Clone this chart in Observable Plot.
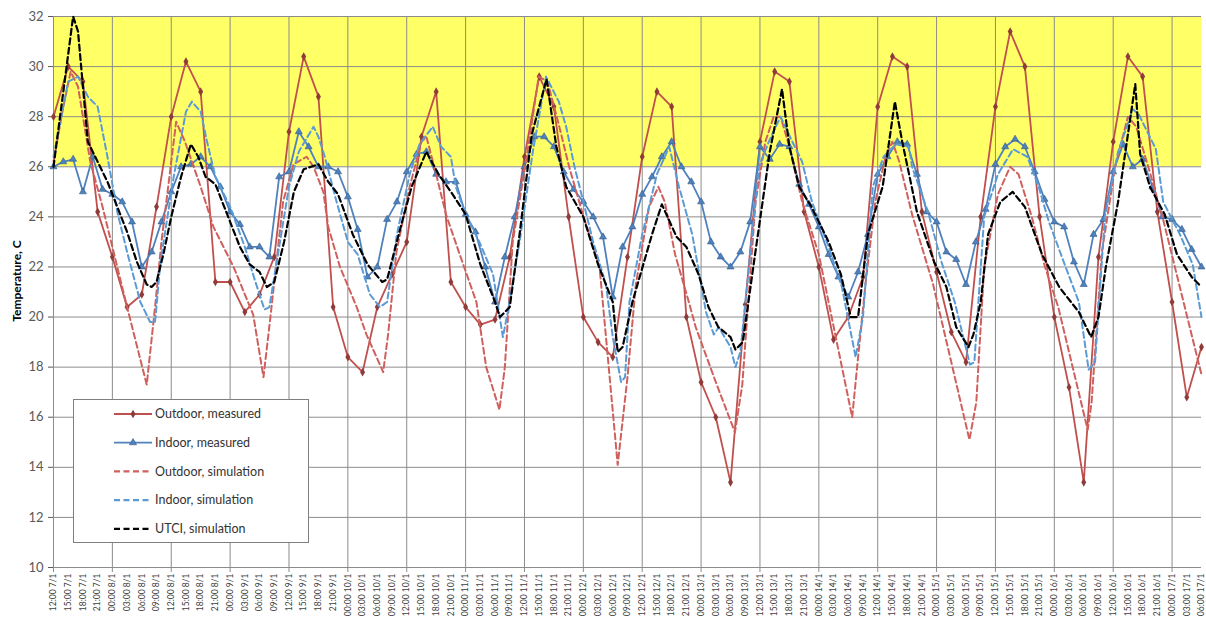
<!DOCTYPE html>
<html><head><meta charset="utf-8">
<script src="https://cdn.jsdelivr.net/npm/d3@7"></script>
<script src="https://cdn.jsdelivr.net/npm/@observablehq/plot@0.6"></script>
<style>
body{margin:0;background:#fff;font-family:Lato,"Open Sans",sans-serif;}
#wrap{position:relative;width:1206px;height:624px;}
#ylab{position:absolute;left:16px;top:281px;transform:translate(-50%,-50%) rotate(-90deg);font-size:12px;font-weight:bold;white-space:nowrap;color:#000;}
#legend{position:absolute;left:73px;top:399px;width:234px;height:142px;border:1px solid #7f7f7f;background:#fff;}
</style></head><body><div id="wrap"></div>
<script>
const timeLabels = [
"12:00 7/1","15:00 7/1","18:00 7/1","21:00 7/1",
"00:00 8/1","03:00 8/1","06:00 8/1","09:00 8/1","12:00 8/1","15:00 8/1","18:00 8/1","21:00 8/1",
"00:00 9/1","03:00 9/1","06:00 9/1","09:00 9/1","12:00 9/1","15:00 9/1","18:00 9/1","21:00 9/1",
"00:00 10/1","03:00 10/1","06:00 10/1","09:00 10/1","12:00 10/1","15:00 10/1","18:00 10/1","21:00 10/1",
"00:00 11/1","03:00 11/1","06:00 11/1","09:00 11/1","12:00 11/1","15:00 11/1","18:00 11/1","21:00 11/1",
"00:00 12/1","03:00 12/1","06:00 12/1","09:00 12/1","12:00 12/1","15:00 12/1","18:00 12/1","21:00 12/1",
"00:00 13/1","03:00 13/1","06:00 13/1","09:00 13/1","12:00 13/1","15:00 13/1","18:00 13/1","21:00 13/1",
"00:00 14/1","03:00 14/1","06:00 14/1","09:00 14/1","12:00 14/1","15:00 14/1","18:00 14/1","21:00 14/1",
"00:00 15/1","03:00 15/1","06:00 15/1","09:00 15/1","12:00 15/1","15:00 15/1","18:00 15/1","21:00 15/1",
"00:00 16/1","03:00 16/1","06:00 16/1","09:00 16/1","12:00 16/1","15:00 16/1","18:00 16/1","21:00 16/1",
"00:00 17/1","03:00 17/1","06:00 17/1"];

// Outdoor, measured: every 3 hours from 12:00 7/1
const outdoorMeasured = [28.0,30.0,29.4,24.2,22.4,20.4,20.9,24.4,28.0,30.2,29.0,21.4,21.4,20.2,20.9,22.4,
27.4,30.4,28.8,20.4,18.4,17.8,20.4,21.7,23.0,27.2,29.0,21.4,20.4,19.7,19.9,22.4,
26.4,29.6,28.4,24.0,20.0,19.0,18.4,22.4,26.4,29.0,28.4,20.0,17.4,16.0,13.4,20.5,
27.0,29.8,29.4,24.2,22.0,19.1,20.0,21.6,28.4,30.4,30.0,24.2,21.8,19.4,18.2,24.0,
28.4,31.4,30.0,24.0,20.0,17.2,13.4,22.4,27.0,30.4,29.6,24.2,20.6,16.8,18.8];

// Indoor, measured: every 2 hours from 12:00 7/1
const indoorMeasured = [26.0,26.2,26.3,25.0,26.4,25.1,24.9,24.6,23.8,22.0,22.6,23.8,25.0,26.0,26.1,26.4,
26.0,25.2,24.2,23.7,22.8,22.8,22.4,25.6,25.8,27.4,26.8,26.0,26.0,25.8,24.8,23.5,
21.6,22.0,23.9,24.6,25.8,26.5,26.6,25.7,25.4,25.4,24.1,23.4,22.0,20.6,22.4,24.0,
26.0,27.2,27.2,26.8,25.8,25.1,24.6,24.0,23.2,20.8,22.8,23.6,24.9,25.6,26.4,27.0,
26.0,25.4,24.6,23.0,22.4,22.0,22.6,23.8,26.8,26.3,26.9,26.8,25.3,24.5,23.6,22.5,
21.6,20.8,21.8,23.3,25.7,26.4,27.0,26.9,25.7,24.2,23.8,22.6,22.3,21.3,23.0,24.3,
26.1,26.8,27.1,26.8,25.8,24.7,23.8,23.6,22.2,21.3,23.3,23.9,25.8,26.9,26.0,26.3,
25.2,24.0,23.9,23.5,22.7,22.0];

// Simulations: [hours after 12:00 7/1, value]
const outdoorSim = [[0,26.2],[2,28.4],[3.5,29.8],[5,29.2],[6,28.0],[7.5,26.2],[10,24.4],[13,22.0],[15,20.4],[19,17.3],
[20.7,20.4],[22,23.0],[25,27.8],[26.8,27.0],[30,25.2],[32.6,23.6],[36.7,22.0],[40.7,20.1],[42.8,17.6],[44.1,19.8],
[46.8,24.6],[48.9,26.1],[51.6,26.4],[53,26.0],[55,25.0],[56,23.6],[58.4,22.0],[61.8,20.4],[63.8,19.3],[67.2,17.8],
[68.2,19.3],[69.9,22.6],[72.6,25.2],[75,27.0],[76,27.2],[78,25.7],[80,24.1],[82.8,22.5],[86.2,20.6],[88.2,18.0],
[90.9,16.3],[92,18.0],[93.6,23.0],[96.3,26.2],[98.9,29.6],[100.7,29.4],[103.1,27.6],[105.1,26.0],[107.9,24.1],[111.3,22.0],
[115,14.1],[117,17.6],[118.7,21.3],[121.4,24.4],[123.3,25.2],[124.6,24.6],[126.7,22.5],[129.5,20.6],[130.9,19.6],[135,17.4],
[138.9,15.4],[140.4,17.3],[143.1,24.6],[145.1,27.0],[146.8,28.0],[148.2,28.0],[150,26.8],[152.6,24.6],[156,22.5],[162.8,16.0],
[163.8,18.0],[165.5,21.3],[167.5,24.6],[169.6,26.4],[171,27.0],[172.4,26.2],[175,24.1],[179.3,21.3],[186.7,15.1],[188.1,16.6],
[189.7,22.0],[192.5,24.9],[195,26.0],[196.7,25.7],[199.4,24.0],[202.1,22.0],[204.8,20.4],[210.8,15.5],[211.6,16.6],[213.7,22.6],
[216.4,26.0],[219,28.0],[220.7,27.6],[223.6,25.7],[226.3,23.8],[234,17.7]];

const indoorSim = [[0,26.4],[3,29.4],[5,29.6],[7,28.8],[9,28.4],[11,26.4],[13,24.2],[15,22.6],[17.7,20.6],[19.7,19.8],
[20.7,19.8],[21.8,22.2],[24.5,25.6],[27,28.2],[28.2,28.6],[30,28.2],[31.3,27.0],[33,25.6],[36,24.4],[39,22.8],
[41,21.5],[43,20.3],[44,20.4],[46,22.8],[48,25.2],[50,26.6],[53,27.6],[54,27.2],[55.3,26.4],[57.7,24.6],
[60,23.0],[62,22.5],[64.5,20.9],[66.5,20.4],[68,20.6],[70,23.3],[72.6,25.7],[74.6,26.9],[77.3,27.6],[79,26.8],
[81,26.4],[82,25.2],[84,24.1],[86.8,23.0],[89.6,21.7],[91.6,19.2],[92.6,20.2],[95,23.0],[97.7,26.6],[100.4,29.6],
[103,28.6],[104.5,27.6],[106.2,26.0],[108,24.6],[110,23.0],[112.6,21.3],[114,19.2],[115.7,17.4],[116.5,17.6],[117.4,20.6],
[120,23.3],[123,25.7],[125.5,26.8],[127.5,25.2],[130.2,23.3],[133,20.2],[134.6,19.3],[135.6,19.6],[138,18.8],[139,18.0],
[140,18.6],[143.8,26.0],[145.8,27.0],[148.2,28.0],[150.6,27.0],[152.6,26.2],[154.6,24.6],[158,22.8],[160.7,21.2],[163.5,18.4],
[165,20.0],[167,25.2],[169.2,26.4],[171.7,26.9],[174.4,26.8],[175,26.0],[178.4,24.1],[181,22.2],[183.7,20.6],[186.8,18.1],
[187.7,18.2],[189.7,24.0],[192.5,25.7],[195.6,26.7],[198.5,26.4],[200.8,25.2],[202.9,23.8],[206.3,22.0],[209,20.6],[211,17.9],
[212.3,18.2],[214.3,24.0],[217,26.6],[220,28.3],[221.2,28.1],[224.7,26.7],[226.2,24.6],[229.6,23.3],[232.2,22.1],[234,20.0]];

const utciSim = [[0,26.0],[4,32.0],[5,31.4],[7,27.0],[9,26.2],[11,25.4],[13,24.4],[15,23.4],[17,22.2],[19,21.3],
[20,21.2],[21,21.4],[22.5,22.6],[24,24.0],[26,25.6],[28,26.9],[29.5,26.4],[31,25.6],[33,25.3],[36,23.8],
[38,22.8],[40,22.1],[42,21.8],[43.5,21.2],[45,21.4],[47,23.0],[49,25.0],[51,25.9],[54,26.1],[56,25.4],
[58,24.9],[61,23.3],[64,22.1],[67,21.4],[68,21.5],[70.5,23.4],[73,25.2],[76,26.6],[78.5,25.7],[81,25.0],
[84,24.1],[87,22.1],[90,20.6],[91,20.0],[93,20.4],[95,23.3],[97.5,27.3],[100.5,29.5],[102.5,26.8],[104.5,25.2],
[108,24.0],[111,22.1],[114,20.6],[115,18.6],[116,18.8],[118,20.6],[122,23.3],[124,24.5],[127,23.2],[129,22.8],
[131.5,21.7],[133.5,20.4],[135.5,19.6],[138,19.2],[139,18.7],[140.5,19.0],[143,22.5],[146,26.6],[148.5,29.1],[150,26.8],
[152,25.2],[154.5,24.4],[158,23.0],[160.5,21.7],[162.5,20.0],[164,20.0],[166,23.3],[169,25.2],[171.5,28.6],[173,27.0],
[176,24.2],[179.5,22.2],[182,21.2],[184,19.6],[186.5,18.8],[187.5,19.3],[189,20.6],[190.5,23.3],[193,24.6],[195.5,25.0],
[198,24.4],[201.5,22.5],[205,21.2],[209,20.2],[211.5,19.2],[213,20.0],[214.5,22.0],[217,24.6],[220.5,29.3],[221.5,26.5],
[223.5,25.2],[226.5,24.1],[229,22.5],[232,21.6],[234,21.2]];

const yTicks = [10,12,14,16,18,20,22,24,26,28,30,32];
const comfortZone = [26, 32];
const seriesNames = ["Outdoor, measured","Indoor, measured","Outdoor, simulation","Indoor, simulation","UTCI, simulation"];
const seriesColors = ["#C0504D","#4F81BD","#D0605D","#5B9BD5","#000000"];
const markerColors = ["#8E3B39","#4F81BD"];
const dash = "6,3.5";

const labelStep = 3;
const totalHours = (timeLabels.length - 1) * labelStep;
const labelHours = d3.range(0, totalHours + 1, labelStep);
const gridHours = d3.range(0, totalHours + 1, 12);
const outdoorData = outdoorMeasured.map((v, i) => ({h: i * 3, v}));
const indoorData = indoorMeasured.map((v, i) => ({h: i * 2, v}));
const toObj = arr => arr.map(([h, v]) => ({h, v}));

const chart = Plot.plot({
  width: 1206, height: 624,
  marginLeft: 53, marginRight: 5, marginTop: 16, marginBottom: 57,
  style: {fontFamily: "Lato, 'Open Sans', sans-serif", background: "transparent"},
  x: {domain: [0, totalHours]},
  y: {domain: [10, 32]},
  marks: [
    Plot.rect([comfortZone], {x1: () => 0, x2: () => totalHours, y1: d => d[0], y2: d => d[1], fill: "#FFFF66"}),
    Plot.ruleY(yTicks, {stroke: "#8c8c8c", strokeWidth: 1}),
    Plot.ruleX(gridHours, {stroke: "#8c8c8c", strokeWidth: 1, insetBottom: -5}),
    Plot.axisY({ticks: yTicks, tickSize: 5, tickPadding: 5, fontSize: 13, color: "#595959", label: null}),
    Plot.axisX({ticks: labelHours, tickFormat: h => timeLabels[h / labelStep], tickRotate: -90, tickSize: 0, tickPadding: 6, fontSize: 8.5, color: "#404040", label: null}),
    Plot.line(outdoorData, {x: "h", y: "v", stroke: seriesColors[0], strokeWidth: 1.8}),
    Plot.dot(outdoorData, {x: "h", y: "v", symbol: "diamond", r: 2.6, fill: markerColors[0], stroke: null}),
    Plot.line(indoorData, {x: "h", y: "v", stroke: seriesColors[1], strokeWidth: 1.8}),
    Plot.dot(indoorData, {x: "h", y: "v", symbol: "triangle", r: 2.6, fill: markerColors[1], stroke: "#2F5A8A", strokeWidth: 0.6}),
    Plot.line(toObj(outdoorSim), {x: "h", y: "v", stroke: seriesColors[2], strokeWidth: 2, strokeDasharray: dash}),
    Plot.line(toObj(indoorSim), {x: "h", y: "v", stroke: seriesColors[3], strokeWidth: 2, strokeDasharray: dash}),
    Plot.line(toObj(utciSim), {x: "h", y: "v", stroke: seriesColors[4], strokeWidth: 2.2, strokeDasharray: dash})
  ]
});
const wrap = document.getElementById("wrap");
wrap.appendChild(chart);

const ylab = document.createElement("div");
ylab.id = "ylab";
ylab.textContent = "Temperature, C";
wrap.appendChild(ylab);

// legend
const legend = document.createElement("div");
legend.id = "legend";
wrap.appendChild(legend);
const svg = d3.select(legend).append("svg").attr("width", 234).attr("height", 142);
seriesNames.forEach((name, i) => {
  const y = 14 + i * 28.7;
  const g = svg.append("g");
  const ln = g.append("line").attr("x1", 40).attr("x2", 78).attr("y1", y).attr("y2", y)
    .attr("stroke", seriesColors[i]).attr("stroke-width", i < 2 ? 1.8 : 2.2);
  if (i >= 2) ln.attr("stroke-dasharray", dash);
  if (i === 0) g.append("path").attr("d", d3.symbol(d3.symbolDiamond, 22)()).attr("transform", `translate(59,${y})`).attr("fill", markerColors[0]);
  if (i === 1) g.append("path").attr("d", d3.symbol(d3.symbolTriangle, 22)()).attr("transform", `translate(59,${y})`).attr("fill", markerColors[1]).attr("stroke", "#2F5A8A").attr("stroke-width", 0.6);
  g.append("text").attr("x", 81).attr("y", y).attr("dy", "0.35em")
    .attr("font-size", 12.5).attr("fill", "#333").attr("font-family", "Lato, 'Open Sans', sans-serif").text(name);
});
</script>
</body></html>
